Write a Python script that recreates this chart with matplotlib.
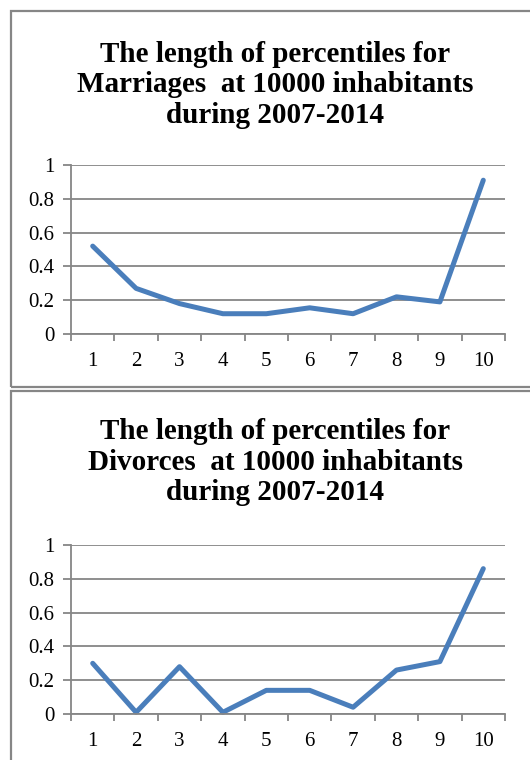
import matplotlib.pyplot as plt
from matplotlib.patches import Rectangle
import numpy as np

# data
percentiles = [1, 2, 3, 4, 5, 6, 7, 8, 9, 10]
marriages = [0.52, 0.27, 0.18, 0.12, 0.12, 0.155, 0.12, 0.22, 0.19, 0.91]
divorces = [0.30, 0.01, 0.28, 0.01, 0.14, 0.14, 0.04, 0.26, 0.31, 0.86]
yticks = [0, 0.2, 0.4, 0.6, 0.8, 1]

titles = ['The length of percentiles for\nMarriages  at 10000 inhabitants\nduring 2007-2014',
          'The length of percentiles for\nDivorces  at 10000 inhabitants\nduring 2007-2014']

plt.rcParams['font.family'] = 'Liberation Serif'

W, H = 530, 760
fig = plt.figure(figsize=(W / 100, H / 100), dpi=100)

gray = '#868686'
blue = '#4A7EBB'


def px(x0, y0, x1, y1):
    # pixel box -> figure fraction rect
    return [x0 / W, 1 - y1 / H, (x1 - x0) / W, (y1 - y0) / H]


def draw(ax, values, title, title_y):
    ax.plot(percentiles, values, color=blue, lw=3.6,
            solid_joinstyle='round', solid_capstyle='round', clip_on=False)
    ax.set_xlim(0.5, 10.5)
    ax.set_ylim(0, 1)
    ax.set_yticks(yticks)
    ax.set_yticklabels(['0', '0.2', '0.4', '0.6', '0.8', '1'])
    ax.yaxis.grid(True, color=gray, lw=1.3)
    ax.set_axisbelow(True)
    ax.set_xticks(percentiles)
    ax.set_xticklabels([str(p) for p in percentiles])
    ax.set_xticks(np.arange(0.5, 11, 1), minor=True)
    ax.tick_params(axis='x', which='major', length=0, pad=13, labelsize=15)
    ax.tick_params(axis='x', which='minor', length=5, width=1.3, color=gray)
    ax.tick_params(axis='y', length=6, width=1.3, color=gray, pad=6, labelsize=15)
    for s in ['top', 'right']:
        ax.spines[s].set_visible(False)
    for s in ['left', 'bottom']:
        ax.spines[s].set_color(gray)
        ax.spines[s].set_linewidth(1.3)
    fig.text(275 / W, 1 - title_y / H, title, ha='center', va='center',
             fontsize=21, fontweight='bold', linespacing=1.18)


# panel frames
fig.patches.append(Rectangle((11 / W, 1 - 387 / H), 540 / W, 376 / H,
                             transform=fig.transFigure, fill=False,
                             edgecolor=gray, lw=1.6))
fig.patches.append(Rectangle((11 / W, -0.05), 540 / W, 1 - 391 / H + 0.05,
                             transform=fig.transFigure, fill=False,
                             edgecolor=gray, lw=1.6))

ax1 = fig.add_axes(px(71, 165, 505, 334))
draw(ax1, marriages, titles[0], 85)

ax2 = fig.add_axes(px(71, 545, 505, 714))
draw(ax2, divorces, titles[1], 462)

plt.savefig('out.png', dpi=100)
